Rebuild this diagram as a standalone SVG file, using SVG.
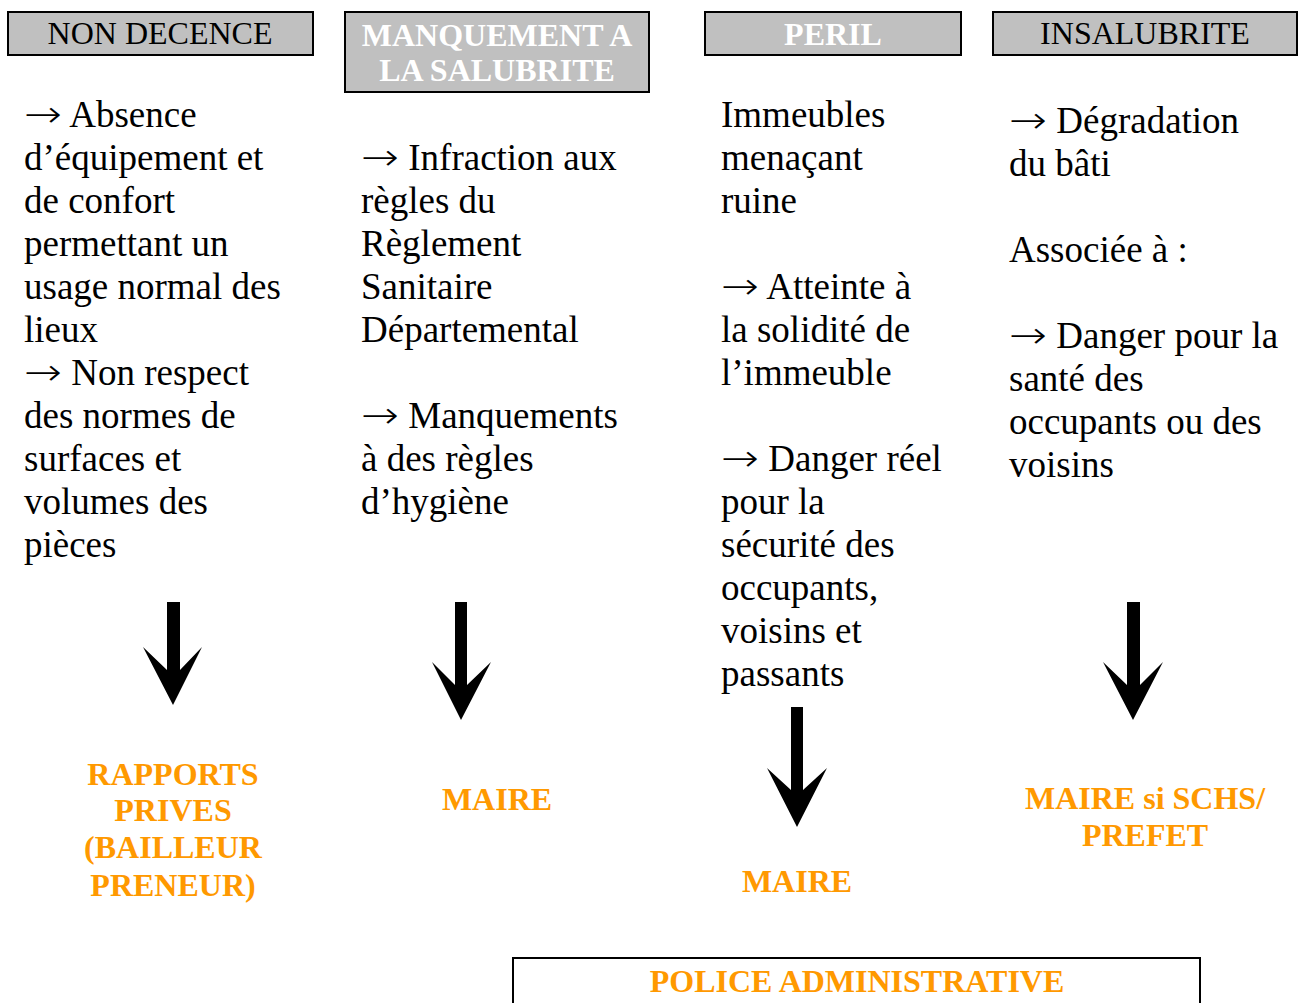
<svg xmlns="http://www.w3.org/2000/svg" width="1298" height="1003" viewBox="0 0 1298 1003">
<style>
.hdr{fill:#c0c0c0;stroke:#000;stroke-width:2}
.ht{font-family:"Liberation Serif","Times New Roman",serif;font-size:32px;text-anchor:middle}
.hb{fill:#fff;font-weight:bold}
.hn{fill:#000}
.body{font-family:"Liberation Serif","Times New Roman",serif;font-size:37px;fill:#000}
.ar{font-family:"DejaVu Sans",sans-serif;font-size:37px;font-weight:200}
.or{font-family:"Liberation Serif","Times New Roman",serif;font-size:32px;font-weight:bold;fill:#ff9900;text-anchor:middle}
.arr{fill:#000}
</style>
<rect width="1298" height="1003" fill="#fff"/>
<g id="h-non-decence">
<rect class="hdr" x="8" y="12" width="305" height="43"/>
<text class="ht hn" x="160" y="44">NON DECENCE</text>
</g>
<g id="h-manquement">
<rect class="hdr" x="345" y="12" width="304" height="80"/>
<text class="ht hb" x="497" y="46">MANQUEMENT A</text>
<text class="ht hb" x="497" y="81">LA SALUBRITE</text>
</g>
<g id="h-peril">
<rect class="hdr" x="705" y="12" width="256" height="43"/>
<text class="ht hb" x="833" y="45">PERIL</text>
</g>
<g id="h-insalubrite">
<rect class="hdr" x="993" y="12" width="304" height="43"/>
<text class="ht hn" x="1145" y="44">INSALUBRITE</text>
</g>
<g id="t-non-decence" class="body">
<text x="24" y="127"><tspan class="ar" textLength="38" lengthAdjust="spacingAndGlyphs">→</tspan> Absence</text>
<text x="24" y="170">d’équipement et</text>
<text x="24" y="213">de confort</text>
<text x="24" y="256">permettant un</text>
<text x="24" y="299">usage normal des</text>
<text x="24" y="342">lieux</text>
<text x="24" y="385"><tspan class="ar" textLength="38" lengthAdjust="spacingAndGlyphs">→</tspan> Non respect</text>
<text x="24" y="428">des normes de</text>
<text x="24" y="471">surfaces et</text>
<text x="24" y="514">volumes des</text>
<text x="24" y="557">pièces</text>
</g>
<g id="t-manquement" class="body">
<text x="361" y="170"><tspan class="ar" textLength="38" lengthAdjust="spacingAndGlyphs">→</tspan> Infraction aux</text>
<text x="361" y="213">règles du</text>
<text x="361" y="256">Règlement</text>
<text x="361" y="299">Sanitaire</text>
<text x="361" y="342">Départemental</text>
<text x="361" y="428"><tspan class="ar" textLength="38" lengthAdjust="spacingAndGlyphs">→</tspan> Manquements</text>
<text x="361" y="471">à des règles</text>
<text x="361" y="514">d’hygiène</text>
</g>
<g id="t-peril" class="body">
<text x="721" y="127">Immeubles</text>
<text x="721" y="170">menaçant</text>
<text x="721" y="213">ruine</text>
<text x="721" y="299"><tspan class="ar" textLength="38" lengthAdjust="spacingAndGlyphs">→</tspan> Atteinte à</text>
<text x="721" y="342">la solidité de</text>
<text x="721" y="385">l’immeuble</text>
<text x="721" y="471"><tspan class="ar" textLength="38" lengthAdjust="spacingAndGlyphs">→</tspan> Danger réel</text>
<text x="721" y="514">pour la</text>
<text x="721" y="557">sécurité des</text>
<text x="721" y="600">occupants,</text>
<text x="721" y="643">voisins et</text>
<text x="721" y="686">passants</text>
</g>
<g id="t-insalubrite" class="body">
<text x="1009" y="133"><tspan class="ar" textLength="38" lengthAdjust="spacingAndGlyphs">→</tspan> Dégradation</text>
<text x="1009" y="176">du bâti</text>
<text x="1009" y="262">Associée à :</text>
<text x="1009" y="348"><tspan class="ar" textLength="38" lengthAdjust="spacingAndGlyphs">→</tspan> Danger pour la</text>
<text x="1009" y="391">santé des</text>
<text x="1009" y="434">occupants ou des</text>
<text x="1009" y="477">voisins</text>
</g>
<g id="connectors">
<path class="arr" d="M167,602 L180,602 L180,670 L202,647 L173,705 L143,647 L167,670 Z"/>
<path class="arr" d="M455,602 L467,602 L467,685 L491,662 L461,720 L432,662 L455,685 Z"/>
<path class="arr" d="M791,707 L803,707 L803,790 L827,768 L797,827 L767,768 L791,790 Z"/>
<path class="arr" d="M1127,602 L1140,602 L1140,685 L1163,662 L1133,720 L1103,662 L1127,685 Z"/>
</g>
<g id="r-rapports">
<text class="or" x="173" y="785">RAPPORTS</text>
<text class="or" x="173" y="821">PRIVES</text>
<text class="or" x="173" y="858">(BAILLEUR</text>
<text class="or" x="173" y="896">PRENEUR)</text>
</g>
<g id="r-maire1"><text class="or" x="497" y="810">MAIRE</text></g>
<g id="r-maire2"><text class="or" x="797" y="892">MAIRE</text></g>
<g id="r-maire-prefet">
<text class="or" x="1145" y="809">MAIRE si SCHS/</text>
<text class="or" x="1145" y="846">PREFET</text>
</g>
<g id="police">
<rect x="513" y="958" width="687" height="60" fill="#fff" stroke="#000" stroke-width="2"/>
<text class="or" x="857" y="992">POLICE ADMINISTRATIVE</text>
</g>
</svg>
